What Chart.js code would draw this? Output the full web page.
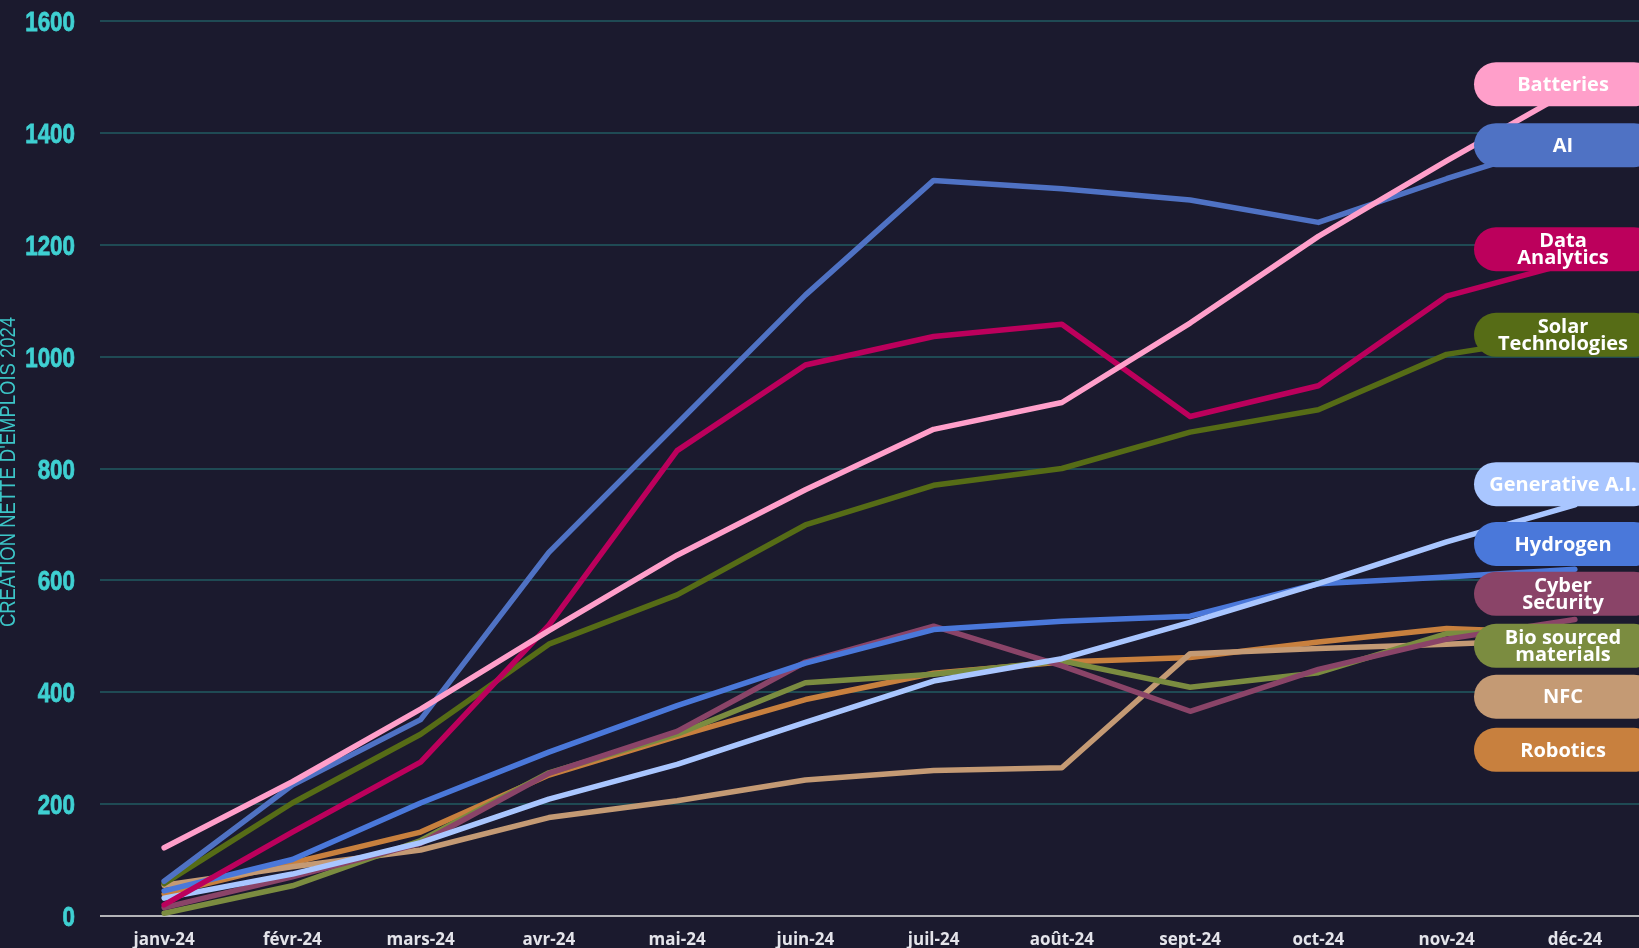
<!DOCTYPE html>
<html>
<head>
<meta charset="utf-8">
<script src="https://cdn.jsdelivr.net/npm/chart.js@4.4.1/dist/chart.umd.min.js"></script>
<style>
  html, body { margin: 0; padding: 0; background: #1b1a2e; }
  #wrap { width: 1639px; height: 948px; position: relative; }
</style>
</head>
<body>
<div id="wrap"><canvas id="chart"></canvas></div>
<script>
const months = ['janv-24', 'févr-24', 'mars-24', 'avr-24', 'mai-24', 'juin-24', 'juil-24', 'août-24', 'sept-24', 'oct-24', 'nov-24', 'déc-24'];

const batteries = [122, 240, 370, 510, 645, 762, 870, 918, 1060, 1215, 1350, 1480];
const ai = [62, 234, 351, 650, 880, 1110, 1315, 1300, 1280, 1240, 1318, 1390];
const dataAnalytics = [20, 150, 275, 520, 832, 985, 1036, 1058, 893, 948, 1108, 1170];
const solar = [58, 202, 325, 486, 574, 699, 770, 800, 865, 905, 1004, 1040];
const generativeAi = [32, 75, 131, 209, 271, 346, 420, 460, 525, 594, 669, 735];
const hydrogen = [45, 101, 202, 293, 376, 452, 512, 527, 536, 594, 606, 620];
const cyberSecurity = [15, 70, 130, 255, 330, 454, 518, 447, 366, 441, 495, 530];
const bioSourced = [5, 54, 135, 256, 325, 417, 432, 456, 409, 435, 505, 510];
const nfc = [55, 88, 118, 176, 206, 243, 260, 265, 469, 478, 486, 495];
const robotics = [39, 95, 150, 252, 321, 387, 434, 454, 462, 490, 514, 505];

const seriesNames = ['Batteries', 'AI', 'Data\nAnalytics', 'Solar\nTechnologies', 'Generative A.I.', 'Hydrogen', 'Cyber\nSecurity', 'Bio sourced\nmaterials', 'NFC', 'Robotics'];
const seriesColors = ['#ff9fca', '#4f72c4', '#bc005c', '#566c16', '#a9c6ff', '#4a78da', '#8a4468', '#7b8c40', '#c49a74', '#c8803e'];
// where each end label sits, in axis units
const labelAt = [1487, 1378, 1192, 1039, 772, 665, 576, 483, 392, 297];
const yTitle = "CRÉATION NETTE D'EMPLOIS 2024";

const allSeries = [batteries, ai, dataAnalytics, solar, generativeAi, hydrogen, cyberSecurity, bioSourced, nfc, robotics];

// y ticks and title in a narrow face: squeeze Liberation Sans since no narrow font is installed
const NarrowAxis = {
  id: 'narrowAxis',
  afterDraw(chart) {
    const ctx = chart.ctx, y = chart.scales.y;
    ctx.save();
    ctx.fillStyle = '#3fd0d2';
    ctx.strokeStyle = '#3fd0d2';
    ctx.lineWidth = 0.8;
    ctx.font = 'bold 28px "Liberation Sans"';
    ctx.textAlign = 'right';
    ctx.textBaseline = 'alphabetic';
    y.ticks.forEach(t => {
      const py = y.getPixelForValue(t.value);
      ctx.save();
      ctx.translate(75, py + 10);
      ctx.scale(0.8, 1);
      ctx.fillText(String(t.value), 0, 0);
      ctx.strokeText(String(t.value), 0, 0);
      ctx.restore();
    });
    ctx.fillStyle = '#3cc6c8';
    ctx.font = '22px "Liberation Sans"';
    ctx.textAlign = 'center';
    ctx.textBaseline = 'middle';
    ctx.translate(9, 472);
    ctx.rotate(-Math.PI / 2);
    ctx.scale(0.84, 1);
    ctx.fillText(yTitle, 0, 0);
    ctx.restore();
  }
};

const EndLabels = {
  id: 'endLabels',
  afterDatasetsDraw(chart) {
    const ctx = chart.ctx, y = chart.scales.y;
    const left = 1474, w = 182, h = 44, r = 22;
    ctx.save();
    seriesNames.forEach((name, i) => {
      const cy = y.getPixelForValue(labelAt[i]);
      ctx.fillStyle = seriesColors[i];
      ctx.beginPath();
      ctx.roundRect(left, cy - h / 2, w, h, r);
      ctx.fill();
      ctx.fillStyle = '#ffffff';
      ctx.textAlign = 'center';
      ctx.textBaseline = 'middle';
      const lines = name.split('\n');
      ctx.font = 'bold 20px "Open Sans"';
      const lh = 17;
      lines.forEach((t, k) => ctx.fillText(t, left + 89, cy + 1 + (k - (lines.length - 1) / 2) * lh));
    });
    ctx.restore();
  }
};

new Chart(document.getElementById('chart'), {
  type: 'line',
  data: {
    labels: months,
    datasets: allSeries.map((d, i) => ({
      label: seriesNames[i].replace('\n', ' '),
      data: d,
      borderColor: seriesColors[i],
      backgroundColor: seriesColors[i],
      borderWidth: 5.5,
      pointRadius: 0,
      tension: 0,
      borderCapStyle: 'round',
      borderJoinStyle: 'round'
    }))
  },
  options: {
    responsive: true,
    maintainAspectRatio: false,
    animation: false,
    layout: { padding: { top: 21, right: 0, bottom: 0, left: 0 } },
    plugins: { legend: { display: false }, tooltip: { enabled: false } },
    scales: {
      x: {
        offset: true,
        afterFit: s => { s.height = 32; },
        grid: { display: false, drawTicks: false },
        border: { display: false },
        ticks: { color: '#e4e4ea', font: { family: '"Open Sans"', weight: 'bold', size: 17 }, padding: 14, maxRotation: 0 }
      },
      y: {
        min: 0, max: 1600,
        afterFit: s => { s.width = 100; },
        grid: {
          drawTicks: false,
          lineWidth: 2,
          color: c => c.tick.value === 0 ? '#b4b4b8' : '#1f4a54'
        },
        border: { display: false },
        ticks: { stepSize: 200, display: false }
      }
    }
  },
  plugins: [EndLabels, NarrowAxis]
});
</script>
</body>
</html>
